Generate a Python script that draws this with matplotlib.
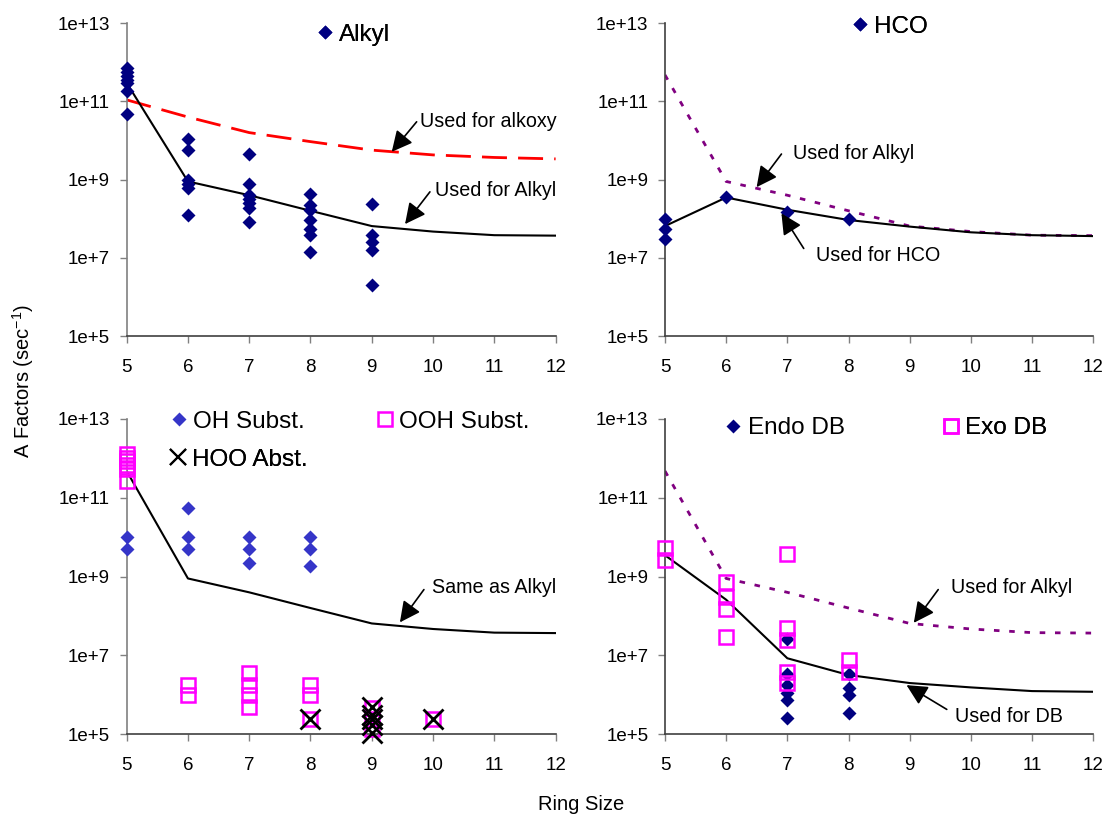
import numpy as np
import matplotlib
matplotlib.use('Agg')
import matplotlib.pyplot as plt
from matplotlib.lines import Line2D

plt.rcParams['font.family'] = ['Liberation Sans', 'DejaVu Sans']
plt.rcParams['mathtext.fontset'] = 'custom'
plt.rcParams['mathtext.rm'] = 'Liberation Sans'

ring = [5, 6, 7, 8, 9, 10, 11, 12]

# fitted curves
alkyl_fit = [3.0e11, 9.0e8, 4.0e8, 1.6e8, 6.5e7, 4.7e7, 3.8e7, 3.7e7]
alkyl_ref = [4.8e11, 9.0e8, 4.0e8, 1.6e8, 6.5e7, 4.7e7, 3.8e7, 3.7e7]
alkoxy_fit = [1.1e11, 4.0e10, 1.6e10, 9.4e9, 5.7e9, 4.3e9, 3.7e9, 3.4e9]
hco_fit = [6.5e7, 3.5e8, 1.7e8, 9.3e7, 6.3e7, 4.5e7, 3.8e7, 3.6e7]
db_fit = [3.5e9, 2.6e8, 8.5e6, 3.2e6, 2.0e6, 1.55e6, 1.25e6, 1.2e6]

# data points
alkyl_x = [5, 5, 5, 5, 5, 5, 5,
           6, 6, 6, 6, 6, 6,
           7, 7, 7, 7, 7, 7, 7,
           8, 8, 8, 8, 8, 8, 8,
           9, 9, 9, 9, 9]
alkyl_y = [7.0e11, 5.8e11, 4.5e11, 3.5e11, 2.9e11, 1.9e11, 4.8e10,
           1.07e10, 5.8e9, 9.8e8, 7.8e8, 6.0e8, 1.26e8,
           4.5e9, 7.8e8, 4.1e8, 3.2e8, 2.5e8, 1.9e8, 8.5e7,
           4.3e8, 2.2e8, 1.7e8, 9.3e7, 5.6e7, 3.8e7, 1.4e7,
           2.4e8, 3.8e7, 2.5e7, 1.6e7, 2.0e6]

hco_x = [5, 5, 5, 6, 7, 8]
hco_y = [9.7e7, 5.4e7, 3.0e7, 3.6e8, 1.5e8, 1.0e8]

oh_x = [5, 5, 6, 6, 6, 7, 7, 7, 8, 8, 8]
oh_y = [1.0e10, 4.9e9, 5.4e10, 1.0e10, 4.9e9, 1.0e10, 4.9e9, 2.2e9,
        1.0e10, 4.9e9, 1.9e9]

ooh_x = [5, 5, 5, 5, 5, 5, 6, 6, 7, 7, 7, 7, 8, 8, 8, 9, 9, 9, 10]
ooh_y = [1.3e12, 1.05e12, 8.5e11, 7.0e11, 5.5e11, 2.7e11, 1.8e6, 1.0e6,
         3.5e6, 1.8e6, 1.0e6, 5.0e5, 1.8e6, 1.0e6, 2.4e5,
         4.6e5, 2.4e5, 1.4e5, 2.4e5]

hoo_x = [8, 9, 9, 9, 9, 9, 10]
hoo_y = [2.4e5, 5.0e5, 3.1e5, 2.4e5, 1.7e5, 1.07e5, 2.4e5]

endo_x = [7, 7, 7, 7, 7, 7, 8, 8, 8, 8]
endo_y = [2.6e7, 3.4e6, 1.8e6, 1.1e6, 7.5e5, 2.6e5,
          3.4e6, 1.5e6, 9.8e5, 3.4e5]

exo_x = [5, 5, 6, 6, 6, 6, 7, 7, 7, 7, 7, 8, 8]
exo_y = [5.3e9, 2.6e9, 7.4e8, 3.1e8, 1.5e8, 2.9e7,
         3.7e9, 4.9e7, 2.5e7, 3.9e6, 2.0e6, 7.8e6, 3.9e6]

ytick_vals = [1e5, 1e7, 1e9, 1e11, 1e13]
ytick_labels = ['1e+5', '1e+7', '1e+9', '1e+11', '1e+13']

NAVY = '#000080'
OHBLUE = '#3535C8'
MAG = '#FF00FF'
PURPLE = '#800080'

fig = plt.figure(figsize=(11.09, 8.15), dpi=100)
lefts = [0.1142, 0.5996]
widths = [0.3868, 0.3862]
ax_tl = fig.add_axes([lefts[0], 0.5877, widths[0], 0.3837])
ax_tr = fig.add_axes([lefts[1], 0.5877, widths[1], 0.3837])
ax_bl = fig.add_axes([lefts[0], 0.099, widths[0], 0.3869])
ax_br = fig.add_axes([lefts[1], 0.099, widths[1], 0.3869])

for ax in (ax_tl, ax_tr, ax_bl, ax_br):
    ax.set_yscale('log')
    ax.set_xlim(5, 12)
    ax.set_ylim(1e5, 1e13)
    ax.set_xticks(ring)
    ax.set_yticks(ytick_vals)
    ax.set_yticklabels(ytick_labels)
    ax.yaxis.set_minor_locator(matplotlib.ticker.NullLocator())
    for s in ('top', 'right'):
        ax.spines[s].set_visible(False)
    for s in ('left', 'bottom'):
        ax.spines[s].set_color('#404040')
        ax.spines[s].set_linewidth(1.2)
    ax.tick_params(direction='out', length=5, width=1, color='#808080',
                   labelsize=13.5)
    ax.tick_params(axis='x', pad=11.5)
    ax.tick_params(axis='y', pad=7)
    ax.set_facecolor('none')
ax_tl.spines['left'].set_color('#808080')
ax_bl.spines['left'].set_color('#808080')


def legend_at(ax, handle, label, x, y):
    leg = ax.legend([handle], [label], loc='center left', bbox_to_anchor=(x, y),
                    frameon=False, fontsize=17.5, handlelength=0.7,
                    handletextpad=0.23, borderpad=0, borderaxespad=0)
    ax.add_artist(leg)


def note(ax, text, txy, tail, tip):
    ax.annotate('', xy=tip, xytext=tail, xycoords='axes fraction',
                textcoords='axes fraction',
                arrowprops=dict(arrowstyle='-|>,head_length=0.7,head_width=0.35',
                                color='black', lw=1.2, mutation_scale=18,
                                shrinkA=0, shrinkB=0))
    ax.text(txy[0], txy[1], text, transform=ax.transAxes, fontsize=14.2,
            ha='left', va='center')


dia = dict(marker='D', ms=7, ls='none', mec='none')
sq = dict(marker='s', ms=10, ls='none', mfc='none', mec=MAG, mew=1.8)

# top left
ax_tl.plot(ring, alkoxy_fit, color='red', lw=2, dashes=(9, 4), zorder=2)
ax_tl.plot(ring, alkyl_fit, color='black', lw=1.5, zorder=2)
ax_tl.plot(alkyl_x, alkyl_y, color=NAVY, clip_on=False, zorder=3, **dia)
legend_at(ax_tl, Line2D([], [], color=NAVY, **dia), 'Alkyl', 0.442, 0.963)
note(ax_tl, 'Used for alkoxy', (0.684, 0.685), (0.676, 0.685), (0.618, 0.589))
note(ax_tl, 'Used for Alkyl', (0.719, 0.465), (0.707, 0.461), (0.649, 0.358))

# top right
ax_tr.plot(ring, alkyl_ref, color=PURPLE, lw=2, dashes=(2, 3.5), zorder=2)
ax_tr.plot(ring, hco_fit, color='black', lw=1.5, zorder=2)
ax_tr.plot(hco_x, hco_y, color=NAVY, clip_on=False, zorder=3,
           **dict(dia, ms=7.5))
legend_at(ax_tr, Line2D([], [], color=NAVY, **dia), 'HCO', 0.435, 0.989)
note(ax_tr, 'Used for Alkyl', (0.299, 0.585), (0.272, 0.582), (0.214, 0.476))
note(ax_tr, 'Used for HCO', (0.353, 0.256), (0.324, 0.280), (0.272, 0.392))

# bottom left
ax_bl.plot(ring, alkyl_ref, color='black', lw=1.5, zorder=2)
ax_bl.plot(oh_x, oh_y, color=OHBLUE, clip_on=False, zorder=3, **dia)
ax_bl.plot(ooh_x, ooh_y, clip_on=False, zorder=3, **sq)
ax_bl.plot(hoo_x, hoo_y, marker='x', ms=15, mew=2, color='black', ls='none',
           clip_on=False, zorder=4)
legend_at(ax_bl, Line2D([], [], color=OHBLUE, **dia), 'OH Subst.', 0.103, 0.991)
legend_at(ax_bl, Line2D([], [], **sq), 'OOH Subst.', 0.582, 0.991)
legend_at(ax_bl, Line2D([], [], marker='x', ms=12, mew=1.5, color='black', ls='none'),
          'HOO Abst.', 0.100, 0.870)
note(ax_bl, 'Same as Alkyl', (0.711, 0.4645), (0.693, 0.459), (0.637, 0.355))

# bottom right
ax_br.plot(ring, alkyl_ref, color=PURPLE, lw=2, dashes=(2, 3.5), zorder=2)
ax_br.plot(ring, db_fit, color='black', lw=1.5, zorder=2)
ax_br.plot(endo_x, endo_y, color=NAVY, clip_on=False, zorder=3, **dia)
ax_br.plot(exo_x, exo_y, clip_on=False, zorder=4, **sq)
legend_at(ax_br, Line2D([], [], color=NAVY, **dia), 'Endo DB', 0.140, 0.9705)
legend_at(ax_br, Line2D([], [], **sq), 'Exo DB', 0.648, 0.9705)
note(ax_br, 'Used for Alkyl', (0.669, 0.4645), (0.638, 0.459), (0.581, 0.3535))
note(ax_br, 'Used for DB', (0.677, 0.056), (0.658, 0.079), (0.564, 0.156))

fig.text(0.021, 0.532, 'A Factors (sec$^{\\mathrm{-1}}$)', rotation=90, fontsize=14.5,
         ha='center', va='center')
fig.text(0.524, 0.013, 'Ring Size', fontsize=14.5, ha='center', va='center')

fig.savefig('out.png', dpi=100)
